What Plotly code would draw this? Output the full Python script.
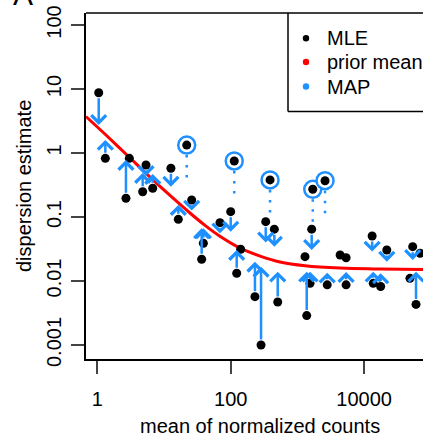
import numpy as np
import plotly.graph_objects as go

# ---- data ----
gene_mean = [1.05, 1.32, 2.69, 3.02, 5.37, 4.79, 6.77, 12.7, 16.4, 26, 38.9, 36.7, 69, 100,
             141, 123, 231, 285, 335, 451, 507, 1637, 1300, 1380, 1547, 2800, 4370, 5370,
             5370, 13200, 21900, 13700, 17700, 53500, 69000, 48700, 60000]
disp_mle = [8.75, 0.826, 0.196, 0.826, 0.65, 0.248, 0.281, 0.577, 0.092, 0.184, 0.0389, 0.0219,
            0.0815, 0.121, 0.0313, 0.0132, 0.00569, 0.001, 0.0845, 0.0645, 0.0047, 0.0645, 0.024,
            0.00288, 0.0092, 0.0087, 0.0255, 0.0231, 0.0087, 0.0505, 0.0305, 0.0092, 0.0082,
            0.0344, 0.0271, 0.011, 0.0043]
disp_map = [2.74, 1.6, 0.778, 0.80, 0.437, 0.487, 0.47, 0.297, 0.154, 0.126, 0.0666, 0.0666,
            0.0556, 0.059, 0.038, 0.0305, 0.020, 0.0167, 0.04, 0.0344, 0.014, 0.0305, 0.019,
            0.014, 0.014, 0.0135, 0.019, 0.019, 0.0138, 0.0288, 0.02, 0.014, 0.0132, 0.0213,
            0.02, 0.014, 0.014]

outlier_mean = [21.9, 113, 389, 1700, 2595]
outlier_mle = [1.33, 0.75, 0.38, 0.271, 0.369]
outlier_map = [0.407, 0.221, 0.1155, 0.0835, 0.111]

curve_mean = [0.676, 1.35, 2.99, 6.17, 12.3, 24.5, 41.2, 69, 141, 276, 548, 1300, 4370, 17400, 81000]
curve_disp = [3.72, 1.91, 0.866, 0.42, 0.217, 0.1155, 0.074, 0.05, 0.0323, 0.0245, 0.0198,
              0.0173, 0.0159, 0.0154, 0.0151]

x_ticks = [1, 100, 10000]
x_ticklabels = ["1", "100", "10000"]
y_ticks = [0.001, 0.01, 0.1, 1, 10, 100]
y_ticklabels = ["0.001", "0.01", "0.1", "1", "10", "100"]

legend_labels = ["MLE", "prior mean", "MAP"]
legend_colors = ["black", "red", "#1E90FF"]

BLUE = "#1E90FF"
FONT = "Liberation Sans, Arial, sans-serif"

fig = go.Figure()

# dotted lines for outliers (not shrunk)
ox, oy = [], []
for m, a, b in zip(outlier_mean, outlier_mle, outlier_map):
    ox += [m, m, None]
    oy += [a, b, None]
fig.add_trace(go.Scatter(x=ox, y=oy, mode="lines",
                         line=dict(color=BLUE, width=2.5, dash="2.5px,7.5px"),
                         hoverinfo="skip", showlegend=False))

# fitted prior mean curve
fig.add_trace(go.Scatter(x=curve_mean, y=curve_disp, mode="lines",
                         line=dict(color="red", width=3, shape="spline", smoothing=0.8),
                         showlegend=False))

# outlier rings
fig.add_trace(go.Scatter(x=outlier_mean, y=outlier_mle, mode="markers",
                         marker=dict(symbol="circle", size=17, color="white",
                                     line=dict(color=BLUE, width=2.5)),
                         showlegend=False))

# MLE points
fig.add_trace(go.Scatter(x=gene_mean + outlier_mean, y=disp_mle + outlier_mle, mode="markers",
                         marker=dict(symbol="circle", size=9, color="black"),
                         showlegend=False))

# shrinkage arrows MLE -> MAP
anns = []
for m, a, b in zip(gene_mean, disp_mle, disp_map):
    if abs(np.log10(b) - np.log10(a)) < 0.04:
        continue
    anns.append(dict(x=np.log10(m), y=np.log10(b), ax=np.log10(m), ay=np.log10(a),
                     xref="x", yref="y", axref="x", ayref="y", text="",
                     showarrow=True, arrowhead=4, arrowsize=1.15, arrowwidth=2.5,
                     arrowcolor=BLUE, startstandoff=4))

# legend (drawn manually, box runs past the right edge as in the reference)
lx0 = (288 - 86) / 337
ly0 = (359 - 111.5) / 346
shapes = [
    dict(type="line", xref="paper", yref="paper", x0=0, x1=1.1, y0=1, y1=1,
         line=dict(color="black", width=1.5)),
    dict(type="line", xref="paper", yref="paper", x0=lx0, x1=lx0, y0=ly0, y1=1,
         line=dict(color="black", width=1.5)),
    dict(type="line", xref="paper", yref="paper", x0=lx0, x1=1.1, y0=ly0, y1=ly0,
         line=dict(color="black", width=1.5)),
]
legend_ys = [38.3, 62, 86.5]
for lab, col, py in zip(legend_labels, legend_colors, legend_ys):
    yp = (359 - py) / 346
    xp = (306 - 86) / 337
    shapes.append(dict(type="circle", xref="paper", yref="paper",
                       xsizemode="pixel", ysizemode="pixel", xanchor=xp, yanchor=yp,
                       x0=-3.2, x1=3.2, y0=-3.2, y1=3.2,
                       fillcolor=col, line=dict(color=col, width=0)))
    anns.append(dict(x=(325 - 86) / 337, y=yp, xref="paper", yref="paper", text=lab,
                     showarrow=False, xanchor="left", yanchor="middle",
                     font=dict(family=FONT, size=20, color="black")))

# axis titles
anns.append(dict(x=(260 - 86) / 337, y=(359 - 426) / 346, xref="paper", yref="paper",
                 text="mean of normalized counts", showarrow=False,
                 xanchor="center", yanchor="middle",
                 font=dict(family=FONT, size=20, color="black")))
anns.append(dict(x=(24 - 86) / 337, y=(359 - 186) / 346, xref="paper", yref="paper",
                 text="dispersion estimate", showarrow=False, textangle=-90,
                 xanchor="center", yanchor="middle",
                 font=dict(family=FONT, size=20, color="black")))
# panel letter (cut off at the top)
anns.append(dict(x=(23 - 86) / 337, y=(359 - 13) / 346, xref="paper", yref="paper",
                 text="A", showarrow=False, xanchor="center", yanchor="bottom",
                 font=dict(family=FONT, size=30, color="black")))

fig.update_layout(
    width=423, height=439,
    margin=dict(l=86, r=0, t=13, b=80, pad=0),
    paper_bgcolor="white", plot_bgcolor="white",
    showlegend=False,
    font=dict(family=FONT, size=20, color="black"),
    shapes=shapes, annotations=anns,
    xaxis=dict(type="log", range=[-0.1694, 4.883], showgrid=False, zeroline=False,
               showline=True, linecolor="black", linewidth=1.5,
               ticks="outside", ticklen=13, tickwidth=1.5, tickcolor="#444",
               tickvals=x_ticks, ticktext=x_ticklabels, ticklabelstandoff=8,
               tickfont=dict(family=FONT, size=20, color="black")),
    yaxis=dict(type="log", range=[-3.219, 2.1875], showgrid=False, zeroline=False,
               showline=True, linecolor="black", linewidth=1.5,
               ticks="outside", ticklen=13, tickwidth=1.5, tickcolor="#444",
               tickvals=y_ticks, ticktext=y_ticklabels, tickangle=-90,
               ticklabelstandoff=2,
               tickfont=dict(family=FONT, size=20, color="black")),
)

fig.write_html("out.html", config={"displayModeBar": False},
               post_script="document.body.style.margin='0';document.body.style.overflow='hidden';")
